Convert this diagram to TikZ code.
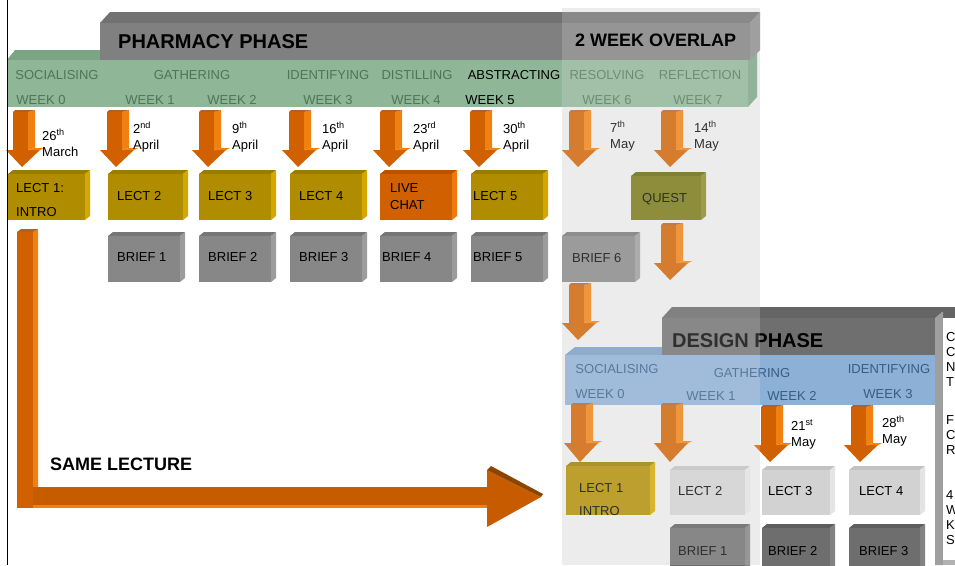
\documentclass[tikz,border=0pt]{standalone}
\usepackage{fontspec}
\setmainfont{Liberation Sans}
\definecolor{gold}{HTML}{B08C00}
\definecolor{goldtop}{HTML}{9C7C00}
\definecolor{goldside}{HTML}{D4A800}
\definecolor{chat}{HTML}{D06000}
\definecolor{chattop}{HTML}{B85400}
\definecolor{chatside}{HTML}{F07A10}
\definecolor{brief}{HTML}{878787}
\definecolor{brieftop}{HTML}{767676}
\definecolor{briefside}{HTML}{9C9C9C}
\definecolor{lgray}{HTML}{D2D2D2}
\definecolor{lgraytop}{HTML}{C2C2C2}
\definecolor{lgrayside}{HTML}{E4E4E4}
\definecolor{dgray}{HTML}{6E6E6E}
\definecolor{dgraytop}{HTML}{5E5E5E}
\definecolor{dgrayside}{HTML}{828282}
\definecolor{questcol}{HTML}{767610}
\definecolor{questtop}{HTML}{66660A}
\definecolor{questside}{HTML}{8A8A20}
\definecolor{arrdark}{HTML}{D06000}
\definecolor{arrlight}{HTML}{F08010}
\definecolor{arrcap}{HTML}{B0602A}
\definecolor{arrbevel}{HTML}{8B4500}
\definecolor{phbar}{HTML}{808080}
\definecolor{phtop}{HTML}{717171}
\definecolor{phside}{HTML}{8C8C8C}
\definecolor{dsbar}{HTML}{6F6F6F}
\definecolor{dstop}{HTML}{656565}
\definecolor{gband}{HTML}{8FB696}
\definecolor{gbandtop}{HTML}{7CA585}
\definecolor{gtext}{HTML}{4E7556}
\definecolor{bband}{HTML}{8DB0D6}
\definecolor{bbandtop}{HTML}{7A9DC4}
\definecolor{btext}{HTML}{365C88}
\definecolor{panel}{HTML}{ECECEC}
\tikzset{
  lbl/.style={anchor=base west, inner sep=0pt, font=\fontsize{13}{15}\selectfont, text=black},
  gtxt/.style={anchor=base, inner sep=0pt, font=\fontsize{13}{15}\selectfont, text=gtext},
  btxt/.style={anchor=base, inner sep=0pt, font=\fontsize{13}{15}\selectfont, text=btext},
  ttl/.style={anchor=base west, inner sep=0pt, font=\bfseries\fontsize{20}{22}\selectfont, text=black},
}
% 3D box: name, x1, y1, x2, y2, front, top, side
\newcommand\tdcube[8]{%
  \fill[#7] (#2,#3) -- (#2+5,#3-4) -- (#4+5,#3-4) -- (#4,#3) -- cycle;
  \fill[#8] (#4,#3) -- (#4+5,#3-4) -- (#4+5,#5-4) -- (#4,#5) -- cycle;
  \node[fill=#6, inner sep=0pt, outer sep=0pt, minimum width={(#4-#2)*1pt}, minimum height={(#5-#3)*1pt}, anchor=north west] (#1) at (#2,#3) {};
}
% down arrow: centre x, top y, head base y, tip y
\newcommand\darr[4]{%
  \fill[arrdark] (#1-9,#2) -- (#1+6,#2) -- (#1+6,#3) -- (#1+18,#3) -- (#1,#4) -- (#1-16,#3) -- (#1-9,#3) -- cycle;
  \fill[arrlight] (#1+6,#2) -- (#1+13,#2-2) -- (#1+13,#3-2) -- (#1+6,#3) -- cycle;
  \fill[arrlight] (#1+6,#3) -- (#1+13,#3-2) -- (#1+22,#3-2) -- (#1+18,#3) -- cycle;
  \fill[arrcap] (#1-9,#2) -- (#1-7,#2-2) -- (#1+13,#2-2) -- (#1+6,#2) -- cycle;
}
% date label: name, x, baseline, number, suffix, month
\newcommand\datel[6]{%
  \node[lbl] (#1a) at (#2,#3) {#4\textsuperscript{#5}};
  \node[lbl] (#1b) at (#2,#3+16) {#6};
}
\begin{document}
\begin{tikzpicture}[x=1pt,y=-1pt]
\useasboundingbox (0,0) rectangle (955,565);
\fill[white] (0,0) rectangle (955,565);
% overlap panel background
\fill[panel] (562,8) rectangle (760,565);

% green band
\fill[gbandtop] (7,60) -- (15,50) -- (757,50) -- (748,60) -- cycle;
\fill[gbandtop] (748,60) -- (757,50) -- (757,97) -- (748,107) -- cycle;
\fill[gband] (7,60) rectangle (748,107);

% pharmacy bar
\fill[phtop] (100,23) -- (110,12) -- (760,12) -- (750,23) -- cycle;
\fill[phside] (750,23) -- (760,12) -- (760,50) -- (750,60) -- cycle;
\fill[phbar] (100,23) rectangle (750,60);
\node[ttl] (phtitle) at (118,48) {PHARMACY PHASE};

% band texts
\node[gtxt] (sA) at (57,79) {SOCIALISING};
\node[gtxt] (sB) at (192,79) {GATHERING};
\node[gtxt] (sC) at (328,79) {IDENTIFYING};
\node[gtxt] (sD) at (417,79) {DISTILLING};
\node[gtxt, text=black] (sE) at (514,79) {ABSTRACTING};
\node[gtxt] (sF) at (607,79) {RESOLVING};
\node[gtxt] (sG) at (700,79) {REFLECTION};
\node[gtxt] (wA) at (41,104) {WEEK 0};
\node[gtxt] (wB) at (150,104) {WEEK 1};
\node[gtxt] (wC) at (232,104) {WEEK 2};
\node[gtxt] (wD) at (328,104) {WEEK 3};
\node[gtxt] (wE) at (416,104) {WEEK 4};
\node[gtxt, text=black] (wF) at (490,104) {WEEK 5};
\node[gtxt] (wG) at (607,104) {WEEK 6};
\node[gtxt] (wH) at (698,104) {WEEK 7};

% pharmacy arrows
\darr{22}{112}{150}{167}
\darr{116}{112}{150}{167}
\darr{208}{112}{150}{167}
\darr{298}{112}{150}{167}
\darr{389}{112}{150}{167}
\darr{479}{112}{150}{167}
\darr{578}{112}{150}{167}
\darr{670}{112}{150}{167}

% dates
\datel{dA}{42}{140}{26}{th}{March}
\datel{dB}{133}{133}{2}{nd}{April}
\datel{dC}{232}{133}{9}{th}{April}
\datel{dD}{322}{133}{16}{th}{April}
\datel{dE}{413}{133}{23}{rd}{April}
\datel{dF}{503}{133}{30}{th}{April}
\datel{dG}{610}{132}{7}{th}{May}
\datel{dH}{694}{132}{14}{th}{May}

% lecture boxes
\tdcube{lA}{8}{174}{85}{220}{gold}{goldtop}{goldside}
\tdcube{lB}{108}{174}{183}{220}{gold}{goldtop}{goldside}
\tdcube{lC}{199}{174}{271}{220}{gold}{goldtop}{goldside}
\tdcube{lD}{290}{174}{362}{220}{gold}{goldtop}{goldside}
\tdcube{lE}{380}{174}{452}{220}{chat}{chattop}{chatside}
\tdcube{lF}{471}{174}{543}{220}{gold}{goldtop}{goldside}
\node[lbl] (lAt) at (16,192) {LECT 1:};
\node[lbl] (lAu) at (16,216) {INTRO};
\node[lbl] (lBt) at (117,200) {LECT 2};
\node[lbl] (lCt) at (208,200) {LECT 3};
\node[lbl] (lDt) at (299,200) {LECT 4};
\node[lbl] (lEt) at (390,192) {LIVE};
\node[lbl] (lEu) at (390,209) {CHAT};
\node[lbl] (lFt) at (473,200) {LECT 5};

% brief boxes
\tdcube{bA}{108}{236}{180}{282}{brief}{brieftop}{briefside}
\tdcube{bB}{199}{236}{271}{282}{brief}{brieftop}{briefside}
\tdcube{bC}{290}{236}{362}{282}{brief}{brieftop}{briefside}
\tdcube{bD}{380}{236}{452}{282}{brief}{brieftop}{briefside}
\tdcube{bE}{471}{236}{543}{282}{brief}{brieftop}{briefside}
\tdcube{bF}{562}{236}{635}{282}{brief}{brieftop}{briefside}
\node[lbl] (bAt) at (117,261) {BRIEF 1};
\node[lbl] (bBt) at (208,261) {BRIEF 2};
\node[lbl] (bCt) at (299,261) {BRIEF 3};
\node[lbl] (bDt) at (382,261) {BRIEF 4};
\node[lbl] (bEt) at (473,261) {BRIEF 5};
\node[lbl] (bFt) at (572,262) {BRIEF 6};

% quest
\tdcube{qA}{631}{176}{701}{220}{questcol}{questtop}{questside}
\node[lbl] (qAt) at (642,202) {QUEST};
\darr{670}{225}{263}{280}
\darr{578}{285}{323}{340}

% big L arrow
\fill[arrdark] (17,232) rectangle (33,508);
\fill[arrlight] (33,232) -- (38,229) -- (38,505) -- (33,508) -- cycle;
\fill[arrcap] (17,232) -- (21,229) -- (38,229) -- (33,232) -- cycle;
\fill[arrdark!95!black] (33,487) rectangle (487,508);
\fill[arrlight] (33,505) rectangle (487,508);
\fill[arrdark!95!black] (487,470) -- (541,497) -- (487,527) -- cycle;
\fill[arrbevel] (487,470) -- (491,466) -- (543,494) -- (541,497) -- cycle;
\node[ttl, font=\bfseries\fontsize{18}{20}\selectfont] (same) at (50,470) {SAME LECTURE};

% design phase: blue band
\fill[bbandtop] (565,355) -- (575,347) -- (935,347) -- (935,355) -- cycle;
\fill[bband] (565,355) rectangle (935,405);
% design bar
\fill[dstop] (662,318) -- (672,307) -- (955,307) -- (955,318) -- cycle;
\fill[dsbar] (662,318) rectangle (935,355);
\node[ttl] (dstitle) at (672,347) {DESIGN PHASE};
% blue band texts
\node[btxt] (tA) at (617,373) {SOCIALISING};
\node[btxt] (tB) at (752,377) {GATHERING};
\node[btxt] (tC) at (889,373) {IDENTIFYING};
\node[btxt] (vA) at (600,398) {WEEK 0};
\node[btxt] (vB) at (711,400) {WEEK 1};
\node[btxt] (vC) at (792,400) {WEEK 2};
\node[btxt] (vD) at (888,398) {WEEK 3};

% design arrows
\darr{580}{405}{443}{462}
\darr{670}{405}{443}{462}
\darr{770}{407}{445}{462}
\darr{860}{407}{445}{462}
\datel{dI}{791}{430}{21}{st}{May}
\datel{dJ}{882}{427}{28}{th}{May}

% design boxes
\tdcube{elA}{566}{466}{650}{515}{gold}{goldtop}{goldside}
\tdcube{elB}{670}{470}{745}{515}{lgray}{lgraytop}{lgrayside}
\tdcube{elC}{762}{470}{830}{515}{lgray}{lgraytop}{lgrayside}
\tdcube{elD}{849}{470}{920}{515}{lgray}{lgraytop}{lgrayside}
\tdcube{ebA}{670}{528}{745}{575}{dgray}{dgraytop}{dgrayside}
\tdcube{ebB}{762}{528}{830}{575}{dgray}{dgraytop}{dgrayside}
\tdcube{ebC}{849}{528}{920}{575}{dgray}{dgraytop}{dgrayside}
\node[lbl] (elAt) at (579,492) {LECT 1};
\node[lbl] (elAu) at (579,515) {INTRO};
\node[lbl] (elBt) at (678,495) {LECT 2};
\node[lbl] (elCt) at (768,495) {LECT 3};
\node[lbl] (elDt) at (859,495) {LECT 4};
\node[lbl] (ebAt) at (678,555) {BRIEF 1};
\node[lbl] (ebBt) at (768,555) {BRIEF 2};
\node[lbl] (ebCt) at (859,555) {BRIEF 3};

% overlay that fades the overlap panel
\fill[panel, opacity=0.2] (562,8) rectangle (760,565);
\node[ttl, font=\bfseries\fontsize{18}{20}\selectfont] (ovl) at (575,46) {2 WEEK OVERLAP};

% right column
\fill[gray!75] (935,318) -- (942,312) -- (943,312) -- (943,565) -- (935,565) -- cycle;
\fill[white] (943,318) rectangle (955,560);
\fill[gray!60] (943,560) rectangle (955,565);
\node[lbl] (rA) at (946,341) {C};
\node[lbl] (rB) at (946,356) {C};
\node[lbl] (rC) at (946,371) {N};
\node[lbl] (rD) at (946,386) {T};
\node[lbl] (rE) at (946,424) {F};
\node[lbl] (rF) at (946,439) {C};
\node[lbl] (rG) at (946,454) {R};
\node[lbl] (rH) at (946,499) {4};
\node[lbl] (rI) at (946,514) {W};
\node[lbl] (rJ) at (946,529) {K};
\node[lbl] (rK) at (946,544) {S};

% left rule
\draw[black, line width=0.8pt] (7,0) -- (7,565);
\end{tikzpicture}
\end{document}
